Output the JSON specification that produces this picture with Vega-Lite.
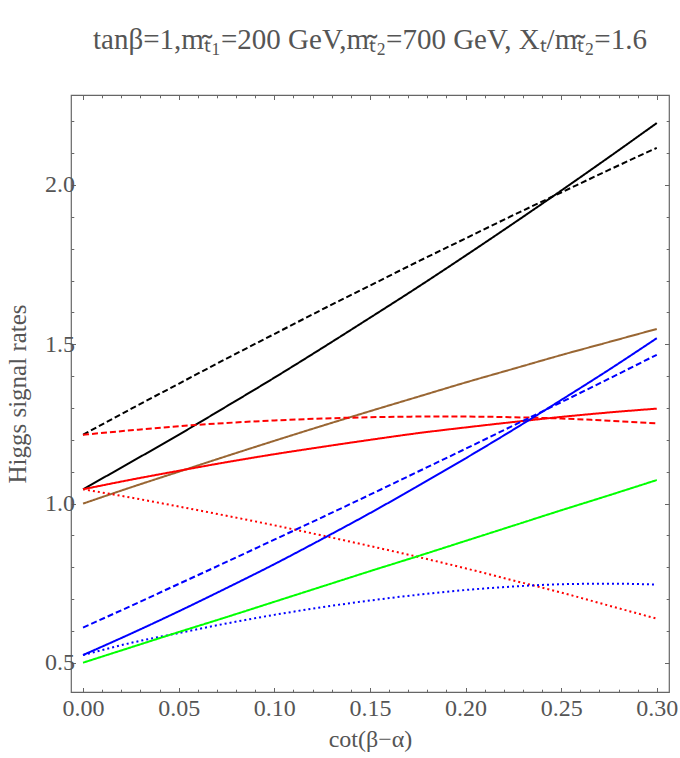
{
  "$schema": "https://vega.github.io/schema/vega-lite/v6.json",
  "width": 598,
  "height": 597,
  "autosize": {"type": "none"},
  "padding": {"left": 71, "top": 95, "right": 11, "bottom": 66},
  "background": "white",
  "title": {
    "text": "tanβ=1,mₜ̃₁=200 GeV,mₜ̃₂=700 GeV, Xₜ/mₜ̃₂=1.6",
    "font": "Liberation Serif",
    "fontSize": 29,
    "fontWeight": "normal",
    "color": "#555555",
    "offset": 40
  },
  "config": {
    "view": {"stroke": "#666666", "strokeWidth": 1.2}
  },
  "data": {
    "values": [
      {"x": 0, "v": 1.045, "s": "s1"}, {"x": 0.025, "v": 1.130, "s": "s1"}, {"x": 0.05, "v": 1.216, "s": "s1"}, {"x": 0.075, "v": 1.305, "s": "s1"}, {"x": 0.1, "v": 1.395, "s": "s1"}, {"x": 0.125, "v": 1.488, "s": "s1"}, {"x": 0.15, "v": 1.583, "s": "s1"}, {"x": 0.175, "v": 1.679, "s": "s1"}, {"x": 0.2, "v": 1.778, "s": "s1"}, {"x": 0.225, "v": 1.879, "s": "s1"}, {"x": 0.25, "v": 1.982, "s": "s1"}, {"x": 0.275, "v": 2.087, "s": "s1"}, {"x": 0.3, "v": 2.194, "s": "s1"},
      {"x": 0, "v": 1.216, "s": "s2"}, {"x": 0.025, "v": 1.297, "s": "s2"}, {"x": 0.05, "v": 1.376, "s": "s2"}, {"x": 0.075, "v": 1.455, "s": "s2"}, {"x": 0.1, "v": 1.532, "s": "s2"}, {"x": 0.125, "v": 1.609, "s": "s2"}, {"x": 0.15, "v": 1.684, "s": "s2"}, {"x": 0.175, "v": 1.759, "s": "s2"}, {"x": 0.2, "v": 1.832, "s": "s2"}, {"x": 0.225, "v": 1.905, "s": "s2"}, {"x": 0.25, "v": 1.976, "s": "s2"}, {"x": 0.275, "v": 2.047, "s": "s2"}, {"x": 0.3, "v": 2.116, "s": "s2"},
      {"x": 0, "v": 1.000, "s": "s3"}, {"x": 0.025, "v": 1.051, "s": "s3"}, {"x": 0.05, "v": 1.100, "s": "s3"}, {"x": 0.075, "v": 1.149, "s": "s3"}, {"x": 0.1, "v": 1.197, "s": "s3"}, {"x": 0.125, "v": 1.244, "s": "s3"}, {"x": 0.15, "v": 1.290, "s": "s3"}, {"x": 0.175, "v": 1.335, "s": "s3"}, {"x": 0.2, "v": 1.380, "s": "s3"}, {"x": 0.225, "v": 1.423, "s": "s3"}, {"x": 0.25, "v": 1.466, "s": "s3"}, {"x": 0.275, "v": 1.507, "s": "s3"}, {"x": 0.3, "v": 1.548, "s": "s3"},
      {"x": 0, "v": 1.045, "s": "s4"}, {"x": 0.025, "v": 1.075, "s": "s4"}, {"x": 0.05, "v": 1.103, "s": "s4"}, {"x": 0.075, "v": 1.130, "s": "s4"}, {"x": 0.1, "v": 1.155, "s": "s4"}, {"x": 0.125, "v": 1.178, "s": "s4"}, {"x": 0.15, "v": 1.200, "s": "s4"}, {"x": 0.175, "v": 1.221, "s": "s4"}, {"x": 0.2, "v": 1.239, "s": "s4"}, {"x": 0.225, "v": 1.256, "s": "s4"}, {"x": 0.25, "v": 1.272, "s": "s4"}, {"x": 0.275, "v": 1.286, "s": "s4"}, {"x": 0.3, "v": 1.298, "s": "s4"},
      {"x": 0, "v": 1.216, "s": "s5"}, {"x": 0.025, "v": 1.230, "s": "s5"}, {"x": 0.05, "v": 1.243, "s": "s5"}, {"x": 0.075, "v": 1.253, "s": "s5"}, {"x": 0.1, "v": 1.261, "s": "s5"}, {"x": 0.125, "v": 1.267, "s": "s5"}, {"x": 0.15, "v": 1.271, "s": "s5"}, {"x": 0.175, "v": 1.273, "s": "s5"}, {"x": 0.2, "v": 1.273, "s": "s5"}, {"x": 0.225, "v": 1.271, "s": "s5"}, {"x": 0.25, "v": 1.267, "s": "s5"}, {"x": 0.275, "v": 1.260, "s": "s5"}, {"x": 0.3, "v": 1.252, "s": "s5"},
      {"x": 0, "v": 1.045, "s": "s6"}, {"x": 0.025, "v": 1.019, "s": "s6"}, {"x": 0.05, "v": 0.991, "s": "s6"}, {"x": 0.075, "v": 0.962, "s": "s6"}, {"x": 0.1, "v": 0.932, "s": "s6"}, {"x": 0.125, "v": 0.900, "s": "s6"}, {"x": 0.15, "v": 0.867, "s": "s6"}, {"x": 0.175, "v": 0.833, "s": "s6"}, {"x": 0.2, "v": 0.797, "s": "s6"}, {"x": 0.225, "v": 0.759, "s": "s6"}, {"x": 0.25, "v": 0.721, "s": "s6"}, {"x": 0.275, "v": 0.680, "s": "s6"}, {"x": 0.3, "v": 0.639, "s": "s6"},
      {"x": 0, "v": 0.525, "s": "s7"}, {"x": 0.025, "v": 0.592, "s": "s7"}, {"x": 0.05, "v": 0.662, "s": "s7"}, {"x": 0.075, "v": 0.735, "s": "s7"}, {"x": 0.1, "v": 0.810, "s": "s7"}, {"x": 0.125, "v": 0.889, "s": "s7"}, {"x": 0.15, "v": 0.970, "s": "s7"}, {"x": 0.175, "v": 1.055, "s": "s7"}, {"x": 0.2, "v": 1.142, "s": "s7"}, {"x": 0.225, "v": 1.232, "s": "s7"}, {"x": 0.25, "v": 1.325, "s": "s7"}, {"x": 0.275, "v": 1.420, "s": "s7"}, {"x": 0.3, "v": 1.519, "s": "s7"},
      {"x": 0, "v": 0.611, "s": "s8"}, {"x": 0.025, "v": 0.679, "s": "s8"}, {"x": 0.05, "v": 0.748, "s": "s8"}, {"x": 0.075, "v": 0.817, "s": "s8"}, {"x": 0.1, "v": 0.887, "s": "s8"}, {"x": 0.125, "v": 0.957, "s": "s8"}, {"x": 0.15, "v": 1.028, "s": "s8"}, {"x": 0.175, "v": 1.100, "s": "s8"}, {"x": 0.2, "v": 1.172, "s": "s8"}, {"x": 0.225, "v": 1.245, "s": "s8"}, {"x": 0.25, "v": 1.318, "s": "s8"}, {"x": 0.275, "v": 1.392, "s": "s8"}, {"x": 0.3, "v": 1.467, "s": "s8"},
      {"x": 0, "v": 0.525, "s": "s9"}, {"x": 0.025, "v": 0.563, "s": "s9"}, {"x": 0.05, "v": 0.594, "s": "s9"}, {"x": 0.075, "v": 0.624, "s": "s9"}, {"x": 0.1, "v": 0.651, "s": "s9"}, {"x": 0.125, "v": 0.675, "s": "s9"}, {"x": 0.15, "v": 0.696, "s": "s9"}, {"x": 0.175, "v": 0.714, "s": "s9"}, {"x": 0.2, "v": 0.729, "s": "s9"}, {"x": 0.225, "v": 0.740, "s": "s9"}, {"x": 0.25, "v": 0.747, "s": "s9"}, {"x": 0.275, "v": 0.749, "s": "s9"}, {"x": 0.3, "v": 0.746, "s": "s9"},
      {"x": 0, "v": 0.501, "s": "s10"}, {"x": 0.025, "v": 0.549, "s": "s10"}, {"x": 0.05, "v": 0.597, "s": "s10"}, {"x": 0.075, "v": 0.644, "s": "s10"}, {"x": 0.1, "v": 0.692, "s": "s10"}, {"x": 0.125, "v": 0.740, "s": "s10"}, {"x": 0.15, "v": 0.788, "s": "s10"}, {"x": 0.175, "v": 0.835, "s": "s10"}, {"x": 0.2, "v": 0.883, "s": "s10"}, {"x": 0.225, "v": 0.931, "s": "s10"}, {"x": 0.25, "v": 0.979, "s": "s10"}, {"x": 0.275, "v": 1.026, "s": "s10"}, {"x": 0.3, "v": 1.074, "s": "s10"}
    ]
  },
  "layer": [
    {
      "mark": {"type": "line", "strokeWidth": 2, "interpolate": "monotone", "clip": true},
      "encoding": {
        "x": {
          "field": "x",
          "type": "quantitative",
          "scale": {"domain": [-0.0063, 0.3064], "nice": false, "zero": false},
          "axis": {
            "orient": "bottom",
            "title": "cot(β−α)",
            "values": [0, 0.01, 0.02, 0.03, 0.04, 0.05, 0.06, 0.07, 0.08, 0.09, 0.1, 0.11, 0.12, 0.13, 0.14, 0.15, 0.16, 0.17, 0.18, 0.19, 0.2, 0.21, 0.22, 0.23, 0.24, 0.25, 0.26, 0.27, 0.28, 0.29, 0.3],
            "labelExpr": "abs(datum.value * 20 - round(datum.value * 20)) < 0.01 ? format(datum.value, '.2f') : ''",
            "domain": false,
            "grid": false,
            "tickColor": "#666666",
            "tickSize": {"condition": {"test": "abs(datum.value * 20 - round(datum.value * 20)) < 0.01", "value": -4.5}, "value": -2.8},
            "labelFont": "Liberation Serif",
            "labelFontSize": 24,
            "labelColor": "#555555",
            "labelPadding": 9,
            "labelFlush": false,
            "labelOverlap": false,
            "titleFont": "Liberation Serif",
            "titleFontSize": 24,
            "titleFontWeight": "normal",
            "titleColor": "#555555",
            "titlePadding": 5
          }
        },
        "y": {
          "field": "v",
          "type": "quantitative",
          "scale": {"domain": [0.409, 2.282], "nice": false, "zero": false},
          "axis": {
            "orient": "left",
            "title": "Higgs signal rates",
            "values": [0.5, 0.6, 0.7, 0.8, 0.9, 1.0, 1.1, 1.2, 1.3, 1.4, 1.5, 1.6, 1.7, 1.8, 1.9, 2.0, 2.1, 2.2],
            "labelExpr": "abs(datum.value * 2 - round(datum.value * 2)) < 0.01 ? format(datum.value, '.1f') : ''",
            "domain": false,
            "grid": false,
            "tickColor": "#666666",
            "tickSize": {"condition": {"test": "abs(datum.value * 2 - round(datum.value * 2)) < 0.01", "value": -4.5}, "value": -2.8},
            "labelFont": "Liberation Serif",
            "labelFontSize": 24,
            "labelColor": "#555555",
            "labelPadding": 1,
            "labelOverlap": false,
            "titleFont": "Liberation Serif",
            "titleFontSize": 25,
            "titleFontWeight": "normal",
            "titleColor": "#555555",
            "titlePadding": 14
          }
        },
        "color": {
          "field": "s",
          "type": "nominal",
          "scale": {
            "domain": ["s1", "s2", "s3", "s4", "s5", "s6", "s7", "s8", "s9", "s10"],
            "range": ["#000000", "#000000", "#996633", "#ff0000", "#ff0000", "#ff0000", "#0000ff", "#0000ff", "#0000ff", "#00ff00"]
          },
          "legend": null
        },
        "strokeDash": {
          "field": "s",
          "type": "nominal",
          "scale": {
            "domain": ["s1", "s2", "s3", "s4", "s5", "s6", "s7", "s8", "s9", "s10"],
            "range": [[1, 0], [6, 3], [1, 0], [1, 0], [6, 3], [2, 3], [1, 0], [6, 3], [2, 3], [1, 0]]
          },
          "legend": null
        }
      }
    },
    {
      "mark": {"type": "line", "strokeOpacity": 0},
      "encoding": {
        "x": {
          "field": "x",
          "type": "quantitative",
          "axis": {
            "orient": "top",
            "title": null,
            "labels": false,
            "values": [0, 0.01, 0.02, 0.03, 0.04, 0.05, 0.06, 0.07, 0.08, 0.09, 0.1, 0.11, 0.12, 0.13, 0.14, 0.15, 0.16, 0.17, 0.18, 0.19, 0.2, 0.21, 0.22, 0.23, 0.24, 0.25, 0.26, 0.27, 0.28, 0.29, 0.3],
            "domain": false,
            "grid": false,
            "tickColor": "#666666",
            "tickSize": {"condition": {"test": "abs(datum.value * 20 - round(datum.value * 20)) < 0.01", "value": -4.5}, "value": -2.8}
          }
        },
        "y": {
          "field": "v",
          "type": "quantitative",
          "axis": {
            "orient": "right",
            "title": null,
            "labels": false,
            "values": [0.5, 0.6, 0.7, 0.8, 0.9, 1.0, 1.1, 1.2, 1.3, 1.4, 1.5, 1.6, 1.7, 1.8, 1.9, 2.0, 2.1, 2.2],
            "domain": false,
            "grid": false,
            "tickColor": "#666666",
            "tickSize": {"condition": {"test": "abs(datum.value * 2 - round(datum.value * 2)) < 0.01", "value": -4.5}, "value": -2.8}
          }
        },
        "detail": {"field": "s", "type": "nominal"}
      }
    }
  ],
  "resolve": {"axis": {"x": "independent", "y": "independent"}}
}
